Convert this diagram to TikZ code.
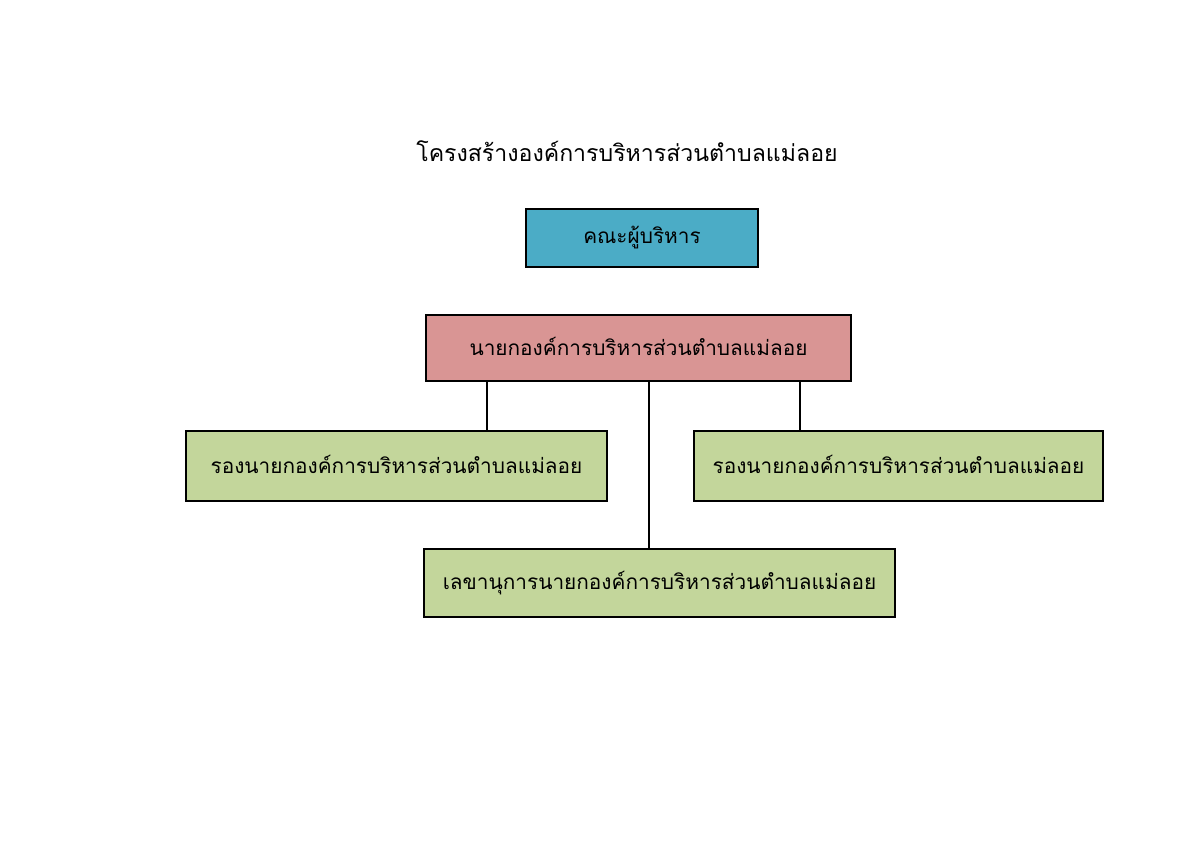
\documentclass[tikz,border=0pt]{standalone}
\usepackage{fontspec}
\newfontfamily\thaifont[Script=Thai]{Loma}
\definecolor{bluebox}{HTML}{4BACC6}
\definecolor{redbox}{HTML}{D99594}
\definecolor{greenbox}{HTML}{C3D69B}
\begin{document}
\begin{tikzpicture}[x=1pt,y=-1pt,
  orgbox/.style={draw=black, line width=1.3pt, inner sep=0pt, font=\thaifont\fontsize{20.8}{24}\selectfont},
  link/.style={draw=black, line width=1.2pt}]
\useasboundingbox (0,0) rectangle (1200,845);
\node[font=\thaifont\fontsize{23.1}{27}\selectfont] (title) at (627,151) {โครงสร้างองค์การบริหารส่วนตำบลแม่ลอย};
\node[orgbox, fill=bluebox, minimum width=232pt, minimum height=58pt] (exec) at (642,238) {คณะผู้บริหาร};
\node[orgbox, fill=redbox, minimum width=425pt, minimum height=66pt] (mayor) at (638.5,348) {\raisebox{3pt}{นายกองค์การบริหารส่วนตำบลแม่ลอย}};
\node[orgbox, fill=greenbox, minimum width=421pt, minimum height=70pt] (dep1) at (396.5,466) {\raisebox{4pt}{รองนายกองค์การบริหารส่วนตำบลแม่ลอย}};
\node[orgbox, fill=greenbox, minimum width=409pt, minimum height=70pt] (dep2) at (898.5,466) {\raisebox{4pt}{รองนายกองค์การบริหารส่วนตำบลแม่ลอย}};
\node[orgbox, fill=greenbox, minimum width=471pt, minimum height=68pt] (sec) at (659.5,583) {\raisebox{4pt}{เลขานุการนายกองค์การบริหารส่วนตำบลแม่ลอย}};
\draw[link] (mayor.south -| 487,0) -- (dep1.north -| 487,0);
\draw[link] (mayor.south -| 800,0) -- (dep2.north -| 800,0);
\draw[link] (mayor.south -| 649,0) -- (sec.north -| 649,0);
\end{tikzpicture}
\end{document}
